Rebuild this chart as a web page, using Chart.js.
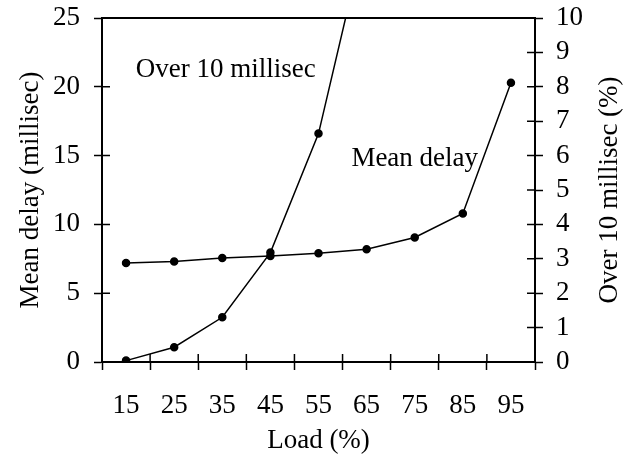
<!DOCTYPE html>
<html>
<head>
<meta charset="utf-8">
<script src="https://cdn.jsdelivr.net/npm/chart.js@4"></script>
<style>
  html, body { margin: 0; padding: 0; background: #fff; }
  #wrap { width: 631px; height: 467px; }
</style>
</head>
<body>
<div id="wrap"><canvas id="chart" width="631" height="467"></canvas></div>
<script>
// Datos
const loads = ['15', '25', '35', '45', '55', '65', '75', '85', '95'];
const meanDelay = [7.2, 7.3, 7.55, 7.7, 7.9, 8.2, 9.05, 10.8, 20.3];
const over10 = [0.04, 0.43, 1.3, 3.18, 6.64, 12.6, null, null, null];

// Etiquetas dentro del grafico (indice de categoria, valor eje izquierdo)
const notes = [
  { text: 'Over 10 millisec', x: 2.07, y: 20.7 },
  { text: 'Mean delay', x: 6.0, y: 14.25 }
];

const FONT = '"Liberation Serif", "Times New Roman", serif';
const SIZE = 27;

// Dibuja marcas hacia dentro, linea superior, titulos y notas
const extras = {
  id: 'extras',
  afterDraw(chart) {
    const ctx = chart.ctx;
    const a = chart.chartArea;
    const xs = chart.scales.x, yl = chart.scales.y, yr = chart.scales.y2;
    ctx.save();
    ctx.strokeStyle = '#000';
    ctx.lineWidth = 1.5;
    ctx.beginPath();
    yl.ticks.forEach((t, i) => {
      const p = yl.getPixelForTick(i);
      ctx.moveTo(a.left, p); ctx.lineTo(a.left + 8, p);
    });
    yr.ticks.forEach((t, i) => {
      const p = yr.getPixelForTick(i);
      ctx.moveTo(a.right, p); ctx.lineTo(a.right - 8, p);
    });
    for (let i = 0; i <= loads.length; i++) {
      const p = xs.getPixelForValue(i - 0.5);
      ctx.moveTo(p, a.bottom); ctx.lineTo(p, a.bottom - 8);
    }
    ctx.stroke();
    ctx.lineWidth = 2;
    ctx.beginPath();
    ctx.moveTo(a.left, a.top); ctx.lineTo(a.right, a.top);
    ctx.stroke();

    ctx.fillStyle = '#000';
    ctx.font = SIZE + 'px ' + FONT;
    ctx.textBaseline = 'alphabetic';
    ctx.textAlign = 'center';
    notes.forEach(n => {
      ctx.fillText(n.text, xs.getPixelForValue(n.x), yl.getPixelForValue(n.y));
    });

    // Titulos de ejes
    ctx.textBaseline = 'middle';
    const midY = (a.top + a.bottom) / 2;
    ctx.fillText('Load (%)', (a.left + a.right) / 2, 441);
    ctx.save();
    ctx.translate(31, midY);
    ctx.rotate(-Math.PI / 2);
    ctx.fillText('Mean delay (millisec)', 0, 0);
    ctx.restore();
    ctx.save();
    ctx.translate(610, midY);
    ctx.rotate(-Math.PI / 2);
    ctx.fillText('Over 10 millisec (%)', 0, 0);
    ctx.restore();
    ctx.restore();
  }
};

const tickFont = { family: FONT, size: SIZE };

function fitY(width) {
  return function (s) {
    s.width = width;
    s.paddingTop = 0;
    s.paddingBottom = 0;
  };
}

new Chart(document.getElementById('chart'), {
  type: 'line',
  data: {
    labels: loads,
    datasets: [
      {
        label: 'Mean delay',
        data: meanDelay,
        yAxisID: 'y',
        borderColor: '#000',
        backgroundColor: '#000',
        borderWidth: 1.5,
        pointRadius: 3.5,
        pointBackgroundColor: '#000',
        tension: 0
      },
      {
        label: 'Over 10 millisec',
        data: over10,
        yAxisID: 'y2',
        borderColor: '#000',
        backgroundColor: '#000',
        borderWidth: 1.5,
        pointRadius: 3.5,
        pointBackgroundColor: '#000',
        tension: 0
      }
    ]
  },
  options: {
    responsive: false,
    animation: false,
    layout: { padding: { top: 18, left: 0, right: 0, bottom: 0 } },
    plugins: { legend: { display: false }, tooltip: { enabled: false } },
    scales: {
      x: {
        offset: true,
        grid: { offset: true, drawOnChartArea: false, color: '#000', tickLength: 8, tickWidth: 1.5 },
        border: { color: '#000', width: 2 },
        ticks: { color: '#000', font: tickFont, padding: 20, autoSkip: false, maxRotation: 0 },
        afterFit(s) { s.height = 105; s.paddingLeft = 0; s.paddingRight = 0; }
      },
      y: {
        position: 'left',
        min: 0, max: 25,
        ticks: { stepSize: 5, color: '#000', font: tickFont, padding: 14, autoSkip: false },
        grid: { drawOnChartArea: false, color: '#000', tickLength: 8, tickWidth: 1.5 },
        border: { color: '#000', width: 2 },
        afterFit: fitY(102)
      },
      y2: {
        position: 'right',
        min: 0, max: 10,
        ticks: { stepSize: 1, color: '#000', font: tickFont, padding: 13, autoSkip: false },
        grid: { drawOnChartArea: false, color: '#000', tickLength: 8, tickWidth: 1.5 },
        border: { color: '#000', width: 2 },
        afterFit: fitY(96)
      }
    }
  },
  plugins: [extras]
});
</script>
</body>
</html>
